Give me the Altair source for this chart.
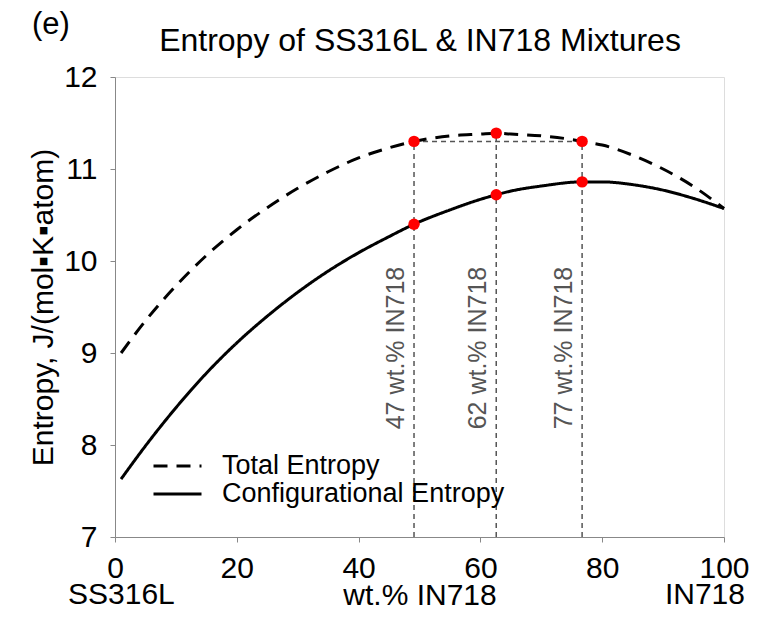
import altair as alt
import pandas as pd

FONT = "Liberation Sans"

# ---- data ----
series_names = ["Total Entropy", "Configurational Entropy"]

x_total = [1, 5, 10, 15, 20, 25, 30, 35, 40, 45, 49.1, 55, 60, 62.6,
           65, 70, 75, 76.7, 80, 85, 90, 95, 100]
y_total = [9.0, 9.35, 9.73, 10.06, 10.34, 10.58, 10.79, 10.97, 11.12, 11.23, 11.30,
           11.36, 11.38, 11.39, 11.38, 11.36, 11.32, 11.30, 11.26, 11.15, 11.00, 10.81, 10.57]

x_config = [1, 5, 10, 15, 20, 25, 30, 35, 40, 45, 49.1, 55, 60, 62.6,
            65, 70, 76.7, 80, 85, 90, 95, 100]
y_config = [7.63, 7.99, 8.405, 8.78, 9.11, 9.40, 9.66, 9.89, 10.09, 10.265, 10.40,
            10.555, 10.67, 10.72, 10.76, 10.815, 10.86, 10.86, 10.83, 10.77, 10.68, 10.57]

mark_x = [49.1, 62.6, 76.7]
mark_total = [11.30, 11.39, 11.30]
mark_config = [10.40, 10.72, 10.86]
mark_labels = ["47 wt.% IN718", "62 wt.% IN718", "77 wt.% IN718"]
label_start_y = 8.17

x_ticks = [0, 20, 40, 60, 80, 100]
y_ticks = [7, 8, 9, 10, 11, 12]
end_x = [0, 100]
end_names = ["SS316L", "IN718"]
title_text = "Entropy of SS316L & IN718 Mixtures"
panel_text = "(e)"

# ---- tables ----
curves = pd.concat([
    pd.DataFrame({"x": x_total, "y": y_total, "series": series_names[0]}),
    pd.DataFrame({"x": x_config, "y": y_config, "series": series_names[1]}),
])
markers = pd.DataFrame({
    "x": mark_x, "top": mark_total, "conf": mark_config,
    "label": mark_labels, "base": y_ticks[0], "ly": label_start_y,
})
points = pd.concat([
    pd.DataFrame({"x": mark_x, "y": mark_total}),
    pd.DataFrame({"x": mark_x, "y": mark_config}),
])
ends = pd.DataFrame({"x": end_x, "t": end_names})

x_scale = alt.Scale(domain=[0, 100], nice=False)
y_scale = alt.Scale(domain=[7, 12], nice=False)

x_axis = alt.Axis(values=x_ticks, title="wt.% IN718",
                  labelFontSize=30, labelPadding=11,
                  labelBaseline="top", labelFlush=False, grid=False,
                  titleFontSize=30, titleY=67, titleBaseline="alphabetic",
                  titleFontWeight="normal")
y_axis = alt.Axis(values=y_ticks, format="d", title="Entropy, J/(mol▪K▪atom)",
                  labelFontSize=30, labelPadding=13, titleFontSize=30, grid=False,
                  titlePadding=5, titleFontWeight="normal")

X = alt.X("x:Q", scale=x_scale, axis=x_axis)
Y = alt.Y("y:Q", scale=y_scale, axis=y_axis)

lines = alt.Chart(curves).mark_line(color="black", strokeWidth=3, interpolate="monotone").encode(
    x=X, y=Y,
    strokeDash=alt.StrokeDash(
        "series:N",
        scale=alt.Scale(domain=series_names, range=[[14, 9], [1, 0]]),
        legend=alt.Legend(
            orient="none", legendX=37, legendY=375, title=None,
            symbolType="stroke", symbolSize=2304, symbolStrokeWidth=3,
            symbolStrokeColor="black", labelFontSize=27, labelFont=FONT,
            labelOffset=19, rowPadding=0, clipHeight=28,
            labelColor="black", labelLimit=500,
        ),
    ),
)

vlines = alt.Chart(markers).mark_rule(color="#555555", strokeDash=[5, 4], strokeWidth=1.5).encode(
    x=alt.X("x:Q", scale=x_scale), y=alt.Y("base:Q", scale=y_scale), y2="top:Q"
)
hline = alt.Chart(markers).mark_rule(color="#555555", strokeDash=[5, 4], strokeWidth=1.5).encode(
    x=alt.X("min(x):Q", scale=x_scale), x2="max(x):Q", y=alt.Y("min(top):Q", scale=y_scale)
)
dots = alt.Chart(points).mark_circle(color="#ff0000", size=130, opacity=1).encode(
    x=alt.X("x:Q", scale=x_scale), y=alt.Y("y:Q", scale=y_scale)
)
labels = alt.Chart(markers).mark_text(
    angle=270, align="left", baseline="bottom", dy=-5, fontSize=25,
    color="#555555", font=FONT,
).encode(x=alt.X("x:Q", scale=x_scale), y=alt.Y("ly:Q", scale=y_scale), text="label:N")

end_left = alt.Chart(ends).transform_filter(f"datum.x == {end_x[0]}").mark_text(
    fontSize=30, align="left", baseline="alphabetic", dx=-47, font=FONT, color="black"
).encode(x=alt.X("x:Q", scale=x_scale), y=alt.value(527), text="t:N")
end_right = alt.Chart(ends).transform_filter(f"datum.x == {end_x[1]}").mark_text(
    fontSize=30, align="right", baseline="alphabetic", dx=21, font=FONT, color="black"
).encode(x=alt.X("x:Q", scale=x_scale), y=alt.value(527), text="t:N")

panel = alt.Chart(pd.DataFrame({"t": [panel_text]})).mark_text(
    fontSize=31, align="left", baseline="alphabetic", font=FONT, color="black"
).encode(text="t:N", x=alt.value(-83), y=alt.value(-43))

title = alt.Chart(pd.DataFrame({"t": [title_text]})).mark_text(
    fontSize=32, align="center", baseline="alphabetic", font=FONT, color="black"
).encode(text="t:N", x=alt.value(305), y=alt.value(-26))

chart = alt.layer(vlines, hline, lines, dots, labels, end_left, end_right, panel, title).properties(
    width=609, height=460,
    padding={"left": 115, "top": 77, "right": 39, "bottom": 83},
    autosize=alt.AutoSizeParams(type="none"),
).configure_view(stroke="black", strokeWidth=2).configure_axis(
    labelFont=FONT, titleFont=FONT, labelColor="black", titleColor="black",
    domainColor="black", domainWidth=2, tickColor="black", tickWidth=2,
    tickSize=8, grid=False,
).configure(background="white")

chart.save("out.html", embed_options={"renderer": "svg", "actions": False})
